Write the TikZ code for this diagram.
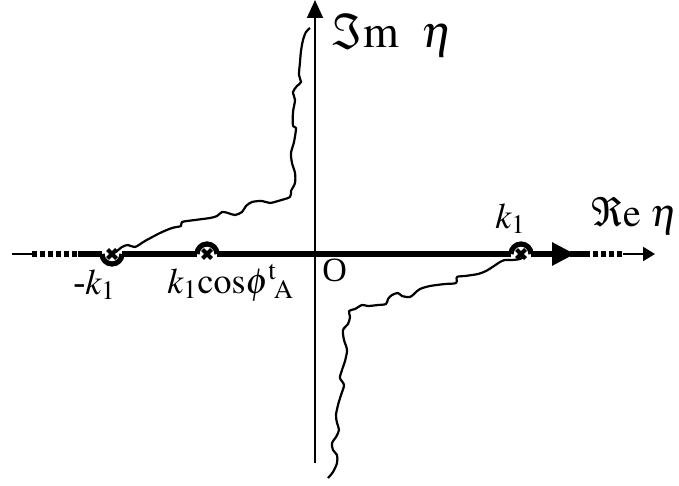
\documentclass[tikz,border=0pt]{standalone}
\usepackage{mathptmx}
\usepackage[no-math]{fontspec}
\setmainfont{Liberation Serif}
\usetikzlibrary{arrows.meta}

\begin{document}
\begin{tikzpicture}[x=0.5pt, y=-0.5pt,
  thickaxis/.style={line width=3pt},
  dashaxis/.style={line width=2.6pt, dash pattern=on 2.5pt off 1.5pt},
  thinaxis/.style={line width=1pt},
  halfring/.style={line width=2.6pt},
  crossmark/.style={line width=2.1pt},
  cut/.style={line width=1.1pt, line join=round},
  lbl/.style={inner sep=0pt, font=\fontsize{18}{21}\selectfont}]
\useasboundingbox (0,0) rectangle (679,486);
% axes end points and poles
\coordinate (reL) at (12,254);
\coordinate (reR) at (655,254);
\coordinate (imB) at (315,463);
\coordinate (imT) at (315,0);
\coordinate (mk) at (112,254);
\coordinate (kc) at (207,254);
\coordinate (kp) at (521,254);
% imaginary axis
\draw[thinaxis, -{Triangle[length=9pt, width=8pt]}] (imB) -- (imT);
% real axis, left part
\draw[thinaxis] (reL) -- (32,254);
\draw[dashaxis] (32,254) -- (78,254);
\draw[thickaxis] (78,254) -- (102,254);
\draw[halfring] (102,254) arc[start angle=180, end angle=360, radius=5pt];
\draw[thickaxis] (122,254) -- (197,254);
\draw[halfring] (197,254) arc[start angle=180, end angle=0, radius=5pt];
\draw[thickaxis] (217,254) -- (511,254);
\draw[halfring] (511,254) arc[start angle=180, end angle=0, radius=5pt];
% real axis, right part
\draw[thickaxis, -{Triangle[length=11.5pt, width=11pt]}] (531,254) -- (575,254);
\draw[thickaxis] (570,254) -- (585,254);
\draw[dashaxis] (585,254) -- (623,254);
\draw[thinaxis, -{Triangle[length=6pt, width=7pt]}] (623,254) -- (reR);
% branch points
\foreach \p in {mk,kc,kp}
  \draw[crossmark] (\p) ++(-4.5,-4.5) -- ++(9,9) (\p) ++(-4.5,4.5) -- ++(9,-9);
% branch cuts
\draw[cut] plot[smooth, tension=0.5] coordinates {(116,252) (122,247) (128,245)
  (135,247) (145,241) (160,233) (172,228) (181,226) (182,222) (195,220) (210,218)
  (217,216) (222,212) (228,213) (235,215) (242,212) (246,206) (252,202) (262,201)
  (270,203) (278,201) (290,197) (291,191) (295,183) (295,173) (292,163) (291,153)
  (294,142) (296,128) (293,126) (293,112) (295,100) (293,92) (297,86) (301,82)
  (299,75) (300,62) (301,51) (303,40) (306,32) (310,28)};
\draw[cut] plot[smooth, tension=0.5] coordinates {(525,256) (520,259) (512,260)
  (505,260) (500,262) (494,266) (486,271) (478,274) (465,276) (457,277) (456,283)
  (445,284) (430,286) (420,289) (415,293) (410,297) (402,296) (398,293) (392,295)
  (388,299) (386,304) (378,305) (368,306) (362,305) (355,309) (349,311) (350,317)
  (348,324) (343,330) (344,340) (347,350) (345,361) (342,370) (340,378) (344,385)
  (341,395) (338,405) (336,415) (337,423) (339,430) (336,437) (332,443) (333,450)
  (337,455) (337,463) (333,472) (328,478)};
% labels
\node[lbl, anchor=base west, font=\fontsize{23}{26}\selectfont] (imlabel) at (332,48) {$\Im\mathrm{m}\hspace{11pt}\eta$};
\node[lbl, anchor=base west, font=\fontsize{20}{24}\selectfont] (relabel) at (591,227) {$\Re\mathrm{e}\ \eta$};
\node[lbl, anchor=base west] (kplabel) at (495,228) {$k_1$};
\node[lbl, anchor=base west] (mklabel) at (73,294) {-$k_1$};
\node[lbl, anchor=base west] (kclabel) at (167,293) {$k_1\mathrm{cos}\phi^{\mathrm{t}}{}_{\!\mathrm{A}}$};
\node[lbl, anchor=base west, font=\fontsize{17}{20}\selectfont] (olabel) at (322,281) {O};
\end{tikzpicture}
\end{document}
